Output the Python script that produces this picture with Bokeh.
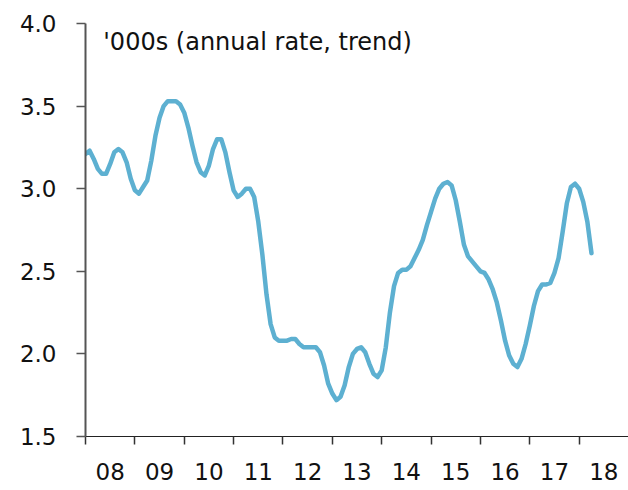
from bokeh.plotting import figure
from bokeh.models import FixedTicker, Label, Range1d, NumeralTickFormatter
from bokeh.embed import file_html
from bokeh.resources import INLINE

# Monthly trend values ('000s, annual rate), Jan 2008 .. Apr 2018
start_year = 2008
values = [
    # 2008
    3.21, 3.23, 3.18, 3.12, 3.09, 3.09, 3.15, 3.22, 3.24, 3.22, 3.16, 3.06,
    # 2009
    2.99, 2.97, 3.01, 3.05, 3.17, 3.32, 3.43, 3.50, 3.53, 3.53, 3.53, 3.51,
    # 2010
    3.46, 3.37, 3.26, 3.16, 3.10, 3.08, 3.14, 3.24, 3.30, 3.30, 3.22, 3.10,
    # 2011
    2.99, 2.95, 2.97, 3.00, 3.00, 2.95, 2.80, 2.60, 2.36, 2.18, 2.10, 2.08,
    # 2012
    2.08, 2.08, 2.09, 2.09, 2.06, 2.04, 2.04, 2.04, 2.04, 2.01, 1.93, 1.82,
    # 2013
    1.76, 1.72, 1.74, 1.81, 1.92, 2.00, 2.03, 2.04, 2.01, 1.94, 1.88, 1.86,
    # 2014
    1.90, 2.04, 2.25, 2.41, 2.49, 2.51, 2.51, 2.53, 2.58, 2.63, 2.69, 2.78,
    # 2015
    2.86, 2.94, 3.00, 3.03, 3.04, 3.02, 2.93, 2.80, 2.66, 2.59, 2.56, 2.53,
    # 2016
    2.50, 2.49, 2.45, 2.39, 2.31, 2.20, 2.08, 1.99, 1.94, 1.92, 1.97, 2.06,
    # 2017
    2.17, 2.29, 2.38, 2.42, 2.42, 2.43, 2.49, 2.58, 2.74, 2.91, 3.01, 3.03,
    # 2018
    3.00, 2.92, 2.80, 2.61,
]
x_years = [2008, 2009, 2010, 2011, 2012, 2013, 2014, 2015, 2016, 2017, 2018]
x_labels = ["08", "09", "10", "11", "12", "13", "14", "15", "16", "17", "18"]
y_ticks = [1.5, 2.0, 2.5, 3.0, 3.5, 4.0]
unit_text = "'000s (annual rate, trend)"

t = [start_year + i / 12.0 for i in range(len(values))]

FONT = "DejaVu Sans"
p = figure(width=628, height=490, output_backend="svg", toolbar_location=None,
           x_range=Range1d(2008, 2019.0), y_range=Range1d(1.5, 4.0),
           min_border_left=85, min_border_right=0, min_border_top=23,
           min_border_bottom=54)
p.outline_line_color = None
p.grid.grid_line_color = None

p.line(t, values, line_color="#5DB0D1", line_width=4.5, line_join="round", line_cap="round")

# x axis: ticks at year boundaries, labels centred mid-year
xa = p.xaxis[0]
xa.ticker = FixedTicker(ticks=[y + 0.5 for y in x_years], minor_ticks=x_years)
xa.major_label_overrides = {y + 0.5: lab for y, lab in zip(x_years, x_labels)}
xa.major_tick_out = 0
xa.major_tick_in = 0
xa.minor_tick_out = 8
xa.minor_tick_in = 0
xa.minor_tick_line_color = "#333333"
xa.minor_tick_line_width = 1.5
xa.axis_line_color = "#222222"
xa.axis_line_width = 1.2
xa.major_label_text_font = FONT
xa.major_label_text_font_size = "23px"
xa.major_label_text_color = "#111111"
xa.major_label_standoff = 18

ya = p.yaxis[0]
ya.ticker = FixedTicker(ticks=y_ticks)
ya.formatter = NumeralTickFormatter(format="0.0")
ya.minor_tick_line_color = None
ya.major_tick_out = 9
ya.major_tick_in = 0
ya.major_tick_line_color = "#555555"
ya.major_tick_line_width = 1.5
ya.axis_line_color = "#555555"
ya.axis_line_width = 2
ya.major_label_text_font = FONT
ya.major_label_text_font_size = "23px"
ya.major_label_text_color = "#111111"
ya.major_label_standoff = 20

p.add_layout(Label(x=2008.36, y=3.885, text=unit_text, text_font=FONT,
                   text_font_size="24px", text_color="#111111",
                   text_baseline="alphabetic", text_align="left"))

open("out.html", "w").write(file_html(p, INLINE))
